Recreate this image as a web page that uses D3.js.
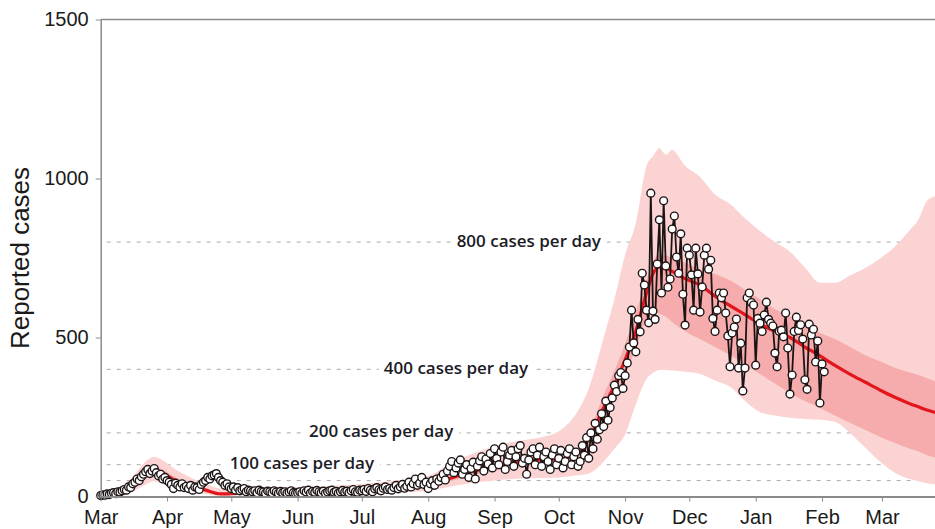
<!DOCTYPE html>
<html>
<head>
<meta charset="utf-8">
<script src="https://cdn.jsdelivr.net/npm/d3@7"></script>
<style>
  html, body { margin: 0; padding: 0; background: #fff; }
  svg { display: block; }
</style>
</head>
<body>
<svg id="chart" width="935" height="529"></svg>
<script>
// ---------------- DATA ----------------
const startDate = "2020-03-01";           // first reported day
const yTicks = [0, 500, 1000, 1500];
const refLines = [50, 100, 200, 400, 800];
const refLabels = ["800 cases per day", "400 cases per day", "200 cases per day", "100 cases per day"];
const refLabelValues = [800, 400, 200, 100];

// daily reported cases, starting 2020-03-01
const dailyCases = [
  3,5,4,8,6,10,12,9,15,14,
  18,22,20,30,28,40,45,55,50,62,
  70,78,85,72,80,88,75,65,70,55,60,
  50,45,38,25,42,35,30,40,28,32,
  25,35,20,30,28,22,38,45,50,60,
  55,65,68,72,60,50,45,35,40,30,
  25,30,20,28,18,22,25,15,20,18,
  15,18,12,20,16,14,10,17,15,12,18,14,10,16,12,15,11,14,18,12,10,
  12,15,10,18,14,20,11,16,13,19,15,12,17,10,14,18,20,13,16,11,15,19,14,17,12,18,22,15,13,20,
  18,22,16,25,20,15,24,28,21,18,26,30,22,25,20,28,35,24,30,38,26,32,45,30,40,55,35,42,60,38,45,
  25,40,50,35,55,48,60,70,52,80,95,110,75,90,105,115,70,85,100,60,88,108,55,95,112,125,80,118,102,135,90,
  150,120,100,140,155,85,110,130,145,95,125,150,160,105,120,70,115,140,150,100,130,155,95,125,140,110,85,130,150,100,
  120,145,90,110,135,150,100,125,140,95,
  110,160,130,185,120,200,150,230,180,210,
  260,220,300,240,280,310,350,330,380,390,340,
  380,420,470,586,483,455,557,518,702,665,586,546,
  954,583,557,731,870,640,930,725,658,684,841,882,753,702,826,636,539,781,759,697,586,781,700,580,659,759,781,715,743,560,519,586,640,625,640,577,
  505,408,514,533,558,404,482,332,404,625,640,610,602,413,560,545,519,571,611,557,545,536,451,408,520,523,502,577,467,322,382,519,564,522,540,495,367,337,542,508,526,423,489,294,417,392
];

// model projection (days after 2020-03-01)
const modelDay = [0,7,14,21,25,28,35,42,49,56,63,70,84,98,112,126,140,153,160,167,174,184,191,198,205,214,221,228,235,240,245,250,255,258,261,264,267,273,280,287,294,301,308,315,322,329,336,343,350,357,364,371,378,382,386,390];
const modelMedian = [2,10,30,65,80,76,50,35,20,8,10,15,15,15,18,22,28,35,50,65,80,95,105,110,115,118,127,180,280,350,430,520,640,700,722,718,708,685,665,630,600,572,542,520,500,470,442,412,385,360,335,312,292,282,272,264];
const modelLo50 = [1,7,24,55,68,64,42,28,15,5,7,11,11,11,14,18,23,29,42,55,68,82,90,95,99,103,110,158,245,310,385,465,560,580,575,565,548,520,495,470,445,415,385,355,325,300,278,255,232,210,188,168,150,142,130,122];
const modelHi50 = [4,13,36,78,92,88,60,42,26,12,14,19,19,19,22,27,34,42,59,76,93,110,120,126,132,137,145,205,320,395,480,580,680,740,760,758,752,735,715,700,680,650,620,590,565,540,515,495,470,445,425,405,390,382,372,362];
const modelLo95 = [0,3,12,38,48,42,25,15,8,2,3,5,5,5,7,10,13,18,27,35,43,50,54,57,58,60,65,72,110,150,195,290,370,388,398,398,396,392,385,365,345,300,265,255,248,244,241,235,200,155,110,75,55,48,42,38];
const modelHi95 = [8,22,55,110,125,118,85,60,40,25,28,30,30,30,35,42,52,65,90,115,135,158,170,178,185,205,250,340,500,620,760,860,1040,1070,1095,1075,1090,1040,1005,950,920,875,835,800,770,720,672,672,695,718,748,785,838,870,930,945];

// ---------------- LAYOUT ----------------
const W = 935, H = 529;
const plot = { left: 100.7, right: 935, top: 19.5, bottom: 496.5 };
const svg = d3.select("#chart");

const t0 = d3.utcParse("%Y-%m-%d")(startDate);
const dayToDate = d => d3.utcDay.offset(t0, d);

const x = d3.scaleUtc()
  .domain([t0, new Date(Date.UTC(2021, 2, 25, 18, 30))])
  .range([plot.left, plot.right]);
const y = d3.scaleLinear().domain([0, 1500]).range([plot.bottom, plot.top]);

// reference (dashed) lines
svg.append("g").selectAll("line").data(refLines).join("line")
  .attr("x1", plot.left + 6).attr("x2", W)
  .attr("y1", d => y(d)).attr("y2", d => y(d))
  .attr("stroke", "#a9a9a9").attr("stroke-width", 1)
  .attr("stroke-dasharray", "4,6");

// annotation labels on reference lines
const labelCenterDay = [200.6, 166.5, 131.9, 94.5];
const lab = svg.append("g");
refLabels.forEach((t, i) => {
  const cx = x(dayToDate(labelCenterDay[i]));
  const cy = y(refLabelValues[i]) - 2;
  const txt = lab.append("text")
    .attr("x", cx).attr("y", cy)
    .attr("text-anchor", "middle").attr("dominant-baseline", "central")
    .attr("font-family", "'Open Sans', sans-serif")
    .attr("font-weight", 600)
    .attr("font-size", 17)
    .attr("fill", "#1b1b26")
    .text(t);
  const bb = txt.node().getBBox();
  lab.insert("rect", "text")
    .attr("x", bb.x - 5).attr("y", bb.y + 1)
    .attr("width", bb.width + 10).attr("height", bb.height - 2)
    .attr("fill", "#fff");
});

// bands
const model = modelDay.map((d, i) => ({
  date: dayToDate(d), med: modelMedian[i],
  lo50: modelLo50[i], hi50: modelHi50[i],
  lo95: modelLo95[i], hi95: modelHi95[i]
}));
svg.append("clipPath").attr("id", "clip")
  .append("rect").attr("x", plot.left).attr("y", plot.top)
  .attr("width", plot.right - plot.left).attr("height", plot.bottom - plot.top);
const gp = svg.append("g").attr("clip-path", "url(#clip)");

const curve = d3.curveMonotoneX;
gp.append("path").datum(model)
  .attr("fill", "#fbd3d3")
  .attr("d", d3.area().curve(curve).x(d => x(d.date)).y0(d => y(d.lo95)).y1(d => y(d.hi95)));
gp.append("path").datum(model)
  .attr("fill", "#f6acac")
  .attr("d", d3.area().curve(curve).x(d => x(d.date)).y0(d => y(d.lo50)).y1(d => y(d.hi50)));
gp.append("path").datum(model)
  .attr("fill", "none").attr("stroke", "#e3151d").attr("stroke-width", 3.2)
  .attr("d", d3.line().curve(curve).x(d => x(d.date)).y(d => y(d.med)));

// observed data
const obs = dailyCases.map((v, i) => ({ date: dayToDate(i), v }));
gp.append("path").datum(obs)
  .attr("fill", "none").attr("stroke", "#1c1414").attr("stroke-width", 1.8)
  .attr("stroke-linejoin", "round")
  .attr("d", d3.line().x(d => x(d.date)).y(d => y(d.v)));
svg.append("g").selectAll("circle").data(obs).join("circle")
  .attr("cx", d => x(d.date)).attr("cy", d => y(d.v))
  .attr("r", 3.9)
  .attr("fill", "#fff").attr("stroke", "#1c1414").attr("stroke-width", 1.4);

// axes frame
const axisColor = "#8a8a8a";
svg.append("line").attr("x1", plot.left).attr("x2", W).attr("y1", plot.top).attr("y2", plot.top)
  .attr("stroke", axisColor).attr("stroke-width", 1.5);

const xAxis = svg.append("g").attr("transform", `translate(0,${plot.bottom})`)
  .call(d3.axisBottom(x).ticks(d3.utcMonth.every(1)).tickFormat(d3.utcFormat("%b")).tickSize(5).tickSizeOuter(0));
xAxis.select(".domain").attr("stroke", axisColor).attr("stroke-width", 2);
xAxis.selectAll(".tick line").attr("stroke", axisColor);
xAxis.selectAll(".tick text").attr("font-family", "'Liberation Sans', Arial, sans-serif")
  .attr("font-size", 20).attr("fill", "#1a1a1a").attr("dy", "0.95em");

const yAxis = svg.append("g").attr("transform", `translate(${plot.left},0)`)
  .call(d3.axisLeft(y).tickValues(yTicks).tickFormat(d3.format("d")).tickSize(5).tickSizeOuter(0).tickPadding(7));
yAxis.select(".domain").attr("stroke", axisColor).attr("stroke-width", 1.5);
yAxis.selectAll(".tick line").attr("stroke", axisColor);
yAxis.selectAll(".tick text").attr("font-family", "'Liberation Sans', Arial, sans-serif")
  .attr("font-size", 20).attr("fill", "#1a1a1a");

svg.append("text")
  .attr("transform", `translate(29,258) rotate(-90)`)
  .attr("text-anchor", "middle")
  .attr("font-family", "'Liberation Sans', Arial, sans-serif")
  .attr("font-size", 26).attr("fill", "#1a1a1a")
  .text("Reported cases");
</script>
</body>
</html>
